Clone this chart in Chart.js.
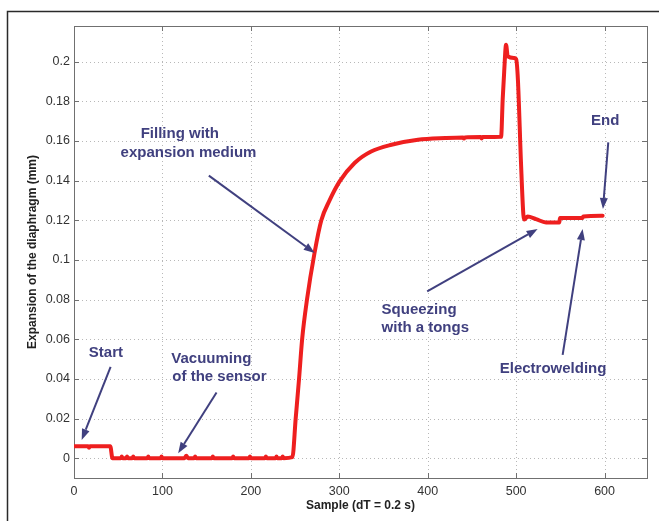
<!DOCTYPE html>
<html>
<head>
<meta charset="utf-8">
<script src="https://cdn.jsdelivr.net/npm/chart.js@4/dist/chart.umd.min.js"></script>
<style>
  html, body { margin: 0; padding: 0; background: #fff; }
  #wrap { width: 659px; height: 521px; }
</style>
</head>
<body>
<div id="wrap"><canvas id="c" width="659" height="521"></canvas></div>
<script>
// ---- data ----
const sampleX = [
  0, 16, 17, 18, 41, 43.5,
  53, 54, 55, 59, 60, 61, 66, 67, 68, 83, 84, 85, 98, 99, 100,
  125, 127, 129, 136, 137, 138, 156, 157, 158, 179, 180, 181, 198, 199, 200, 216, 217, 218, 228, 229, 230, 235, 236, 237,
  247, 250.7, 254.5, 258, 263.5, 272, 279.7, 289, 300.4, 317.3, 336, 359, 389, 420, 440, 441, 442, 460, 461, 462, 483,
  484.8, 486.5, 488.6, 490.5, 498, 500, 502, 505.5, 508.2, 509.3, 513, 522.5, 533.8, 548.8, 549.6, 575, 576, 597.8
];
const expansionMm = [
  0.006, 0.006, 0.0052, 0.006, 0.006, 0,
  0, 0.0008, 0, 0, 0.0008, 0, 0, 0.0008, 0, 0, 0.0008, 0, 0, 0.0008, 0,
  0, 0.0012, 0, 0, 0.0008, 0, 0, 0.0008, 0, 0, 0.0008, 0, 0, 0.0008, 0, 0, 0.0008, 0, 0, 0.0008, 0, 0, 0.0008, 0,
  0.0005, 0.02, 0.04, 0.06, 0.08, 0.1035, 0.12, 0.130, 0.1396, 0.1489, 0.1547, 0.1581, 0.1606, 0.1615, 0.1618, 0.1612, 0.1618, 0.162, 0.1613, 0.162, 0.1621,
  0.181, 0.195, 0.2086, 0.2027, 0.2019, 0.2013, 0.191, 0.149, 0.1228, 0.1204, 0.1219, 0.1206, 0.1189, 0.1189, 0.1211, 0.1211, 0.1219, 0.1223
];
const xTicks = [0, 100, 200, 300, 400, 500, 600];
const yTicks = [0, 0.02, 0.04, 0.06, 0.08, 0.1, 0.12, 0.14, 0.16, 0.18, 0.2];
const xTitle = 'Sample (dT = 0.2 s)';
const yTitle = 'Expansion of the diaphragm (mm)';

// annotation texts (anchored in data units)
const labelTexts = ['Filling with', 'expansion medium', 'Start', 'Vacuuming', 'of the sensor', 'End', 'Squeezing', 'with a tongs', 'Electrowelding'];
const labelX     = [119.7, 129.5, 36.1, 155.3, 164.5, 600.8, 347.8, 347.8, 541.8];
const labelY     = [0.1637, 0.1541, 0.0531, 0.0501, 0.041, 0.1704, 0.0748, 0.0656, 0.0452];
const labelAlign = ['center', 'center', 'center', 'center', 'center', 'center', 'left', 'left', 'center'];
// arrows: from (x0,y0) to (x1,y1), data units
const arrowX0 = [152.5, 41.4, 161.2, 604.2, 399.4, 552.6];
const arrowY0 = [0.1425, 0.0461, 0.0331, 0.1593, 0.0841, 0.0521];
const arrowX1 = [272.2, 8.7, 117.8, 598.2, 524.3, 575.2];
const arrowY1 = [0.1035, 0.0092, 0.0025, 0.1257, 0.1156, 0.1156];

const points = sampleX.map((x, i) => ({ x: x, y: expansionMm[i] }));

const FONT = '"Liberation Sans", Arial, Helvetica, sans-serif';
const ANN_COLOR = '#40407f';

const matlabPlugin = {
  id: 'matlabLook',
  beforeDraw(chart) {
    const ctx = chart.ctx;
    ctx.save();
    ctx.fillStyle = '#ffffff';
    ctx.fillRect(0, 0, chart.width, chart.height);
    ctx.strokeStyle = '#2a2a2a';
    ctx.lineWidth = 1.5;
    ctx.beginPath();
    ctx.moveTo(7.5, chart.height);
    ctx.lineTo(7.5, 11.5);
    ctx.lineTo(chart.width, 11.5);
    ctx.stroke();
    ctx.restore();
  },
  beforeDatasetsDraw(chart) {
    const ctx = chart.ctx;
    const a = chart.chartArea;
    const xs = chart.scales.x, ys = chart.scales.y;
    ctx.save();
    ctx.strokeStyle = '#b8b8b8';
    ctx.lineWidth = 1;
    ctx.setLineDash([1, 3]);
    xTicks.forEach(v => {
      const px = Math.round(xs.getPixelForValue(v)) + 0.5;
      if (px <= a.left + 1 || px >= a.right - 1) return;
      ctx.beginPath(); ctx.moveTo(px, a.bottom); ctx.lineTo(px, a.top); ctx.stroke();
    });
    yTicks.forEach(v => {
      const py = Math.round(ys.getPixelForValue(v)) + 0.5;
      if (py <= a.top + 1 || py >= a.bottom - 1) return;
      ctx.beginPath(); ctx.moveTo(a.left, py); ctx.lineTo(a.right, py); ctx.stroke();
    });
    ctx.setLineDash([]);
    ctx.strokeStyle = '#707070';
    ctx.lineWidth = 1;
    ctx.strokeRect(Math.round(a.left) + 0.5, Math.round(a.top) + 0.5,
                   Math.round(a.right - a.left), Math.round(a.bottom - a.top));
    const tl = 5;
    ctx.beginPath();
    xTicks.forEach(v => {
      const px = Math.round(xs.getPixelForValue(v)) + 0.5;
      ctx.moveTo(px, a.bottom); ctx.lineTo(px, a.bottom - tl);
      ctx.moveTo(px, a.top); ctx.lineTo(px, a.top + tl);
    });
    yTicks.forEach(v => {
      const py = Math.round(ys.getPixelForValue(v)) + 0.5;
      ctx.moveTo(a.left, py); ctx.lineTo(a.left + tl, py);
      ctx.moveTo(a.right, py); ctx.lineTo(a.right - tl, py);
    });
    ctx.stroke();
    ctx.restore();
  },
  afterDatasetsDraw(chart) {
    const ctx = chart.ctx;
    const xs = chart.scales.x, ys = chart.scales.y;
    ctx.save();
    ctx.fillStyle = ANN_COLOR;
    ctx.strokeStyle = ANN_COLOR;
    ctx.font = 'bold 15px ' + FONT;
    ctx.textBaseline = 'middle';
    labelTexts.forEach((t, i) => {
      ctx.textAlign = labelAlign[i];
      ctx.fillText(t, xs.getPixelForValue(labelX[i]), ys.getPixelForValue(labelY[i]));
    });
    arrowX0.forEach((_, i) => {
      const x0 = xs.getPixelForValue(arrowX0[i]), y0 = ys.getPixelForValue(arrowY0[i]);
      const x1 = xs.getPixelForValue(arrowX1[i]), y1 = ys.getPixelForValue(arrowY1[i]);
      const ang = Math.atan2(y1 - y0, x1 - x0);
      const hl = 11, hw = 4;
      const bx = x1 - hl * Math.cos(ang), by = y1 - hl * Math.sin(ang);
      ctx.lineWidth = 2;
      ctx.beginPath(); ctx.moveTo(x0, y0); ctx.lineTo(bx, by); ctx.stroke();
      ctx.beginPath();
      ctx.moveTo(x1, y1);
      ctx.lineTo(bx + hw * Math.sin(ang), by - hw * Math.cos(ang));
      ctx.lineTo(bx - hw * Math.sin(ang), by + hw * Math.cos(ang));
      ctx.closePath();
      ctx.fill();
    });
    ctx.restore();
  }
};

new Chart(document.getElementById('c'), {
  type: 'line',
  data: {
    datasets: [{
      data: points,
      borderColor: '#ee1f1f',
      borderWidth: 4,
      pointRadius: 0,
      cubicInterpolationMode: 'monotone',
      fill: false,
      borderJoinStyle: 'round',
      borderCapStyle: 'round'
    }]
  },
  options: {
    responsive: false,
    animation: false,
    events: [],
    layout: { padding: { top: 26, right: 12, left: 0, bottom: 0 } },
    plugins: { legend: { display: false }, tooltip: { enabled: false } },
    scales: {
      x: {
        type: 'linear',
        min: 0, max: 648,
        grid: { display: false, drawTicks: false },
        border: { display: false },
        afterBuildTicks: s => { s.ticks = xTicks.map(v => ({ value: v })); },
        afterFit: s => { s.height = 43; },
        ticks: {
          color: '#333', padding: 6, maxRotation: 0, autoSkip: false,
          font: { family: FONT, size: 12.5 },
          callback: v => String(v)
        },
        title: {
          display: true, text: xTitle, color: '#222',
          font: { family: FONT, size: 12, weight: 'bold' },
          padding: { top: 0, bottom: 8 }
        }
      },
      y: {
        type: 'linear',
        min: -0.01, max: 0.218,
        grid: { display: false, drawTicks: false },
        border: { display: false },
        afterBuildTicks: s => { s.ticks = yTicks.map(v => ({ value: v })); },
        afterFit: s => { s.width = 74; },
        ticks: {
          color: '#333', padding: 4, autoSkip: false,
          font: { family: FONT, size: 12.5 },
          callback: v => String(v)
        },
        title: {
          display: true, text: yTitle, color: '#222',
          font: { family: FONT, size: 12, weight: 'bold' },
          padding: { top: 25, bottom: 0 }
        }
      }
    }
  },
  plugins: [matlabPlugin]
});
</script>
</body>
</html>
